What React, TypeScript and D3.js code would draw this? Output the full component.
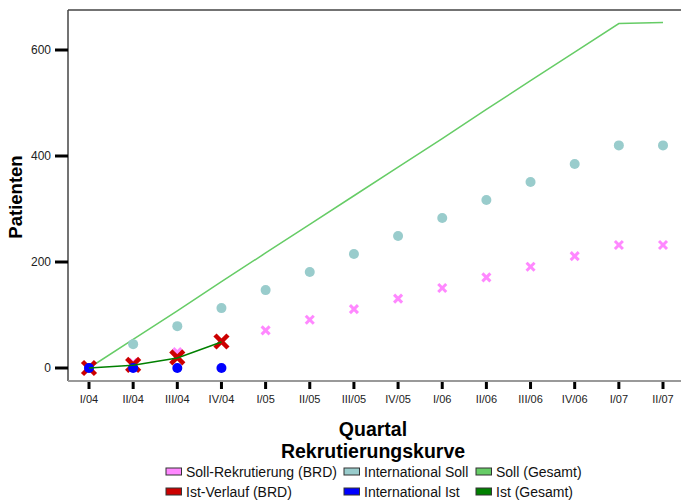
import React from "react";
import * as d3 from "d3";

const quarters = ["I/04","II/04","III/04","IV/04","I/05","II/05","III/05","IV/05","I/06","II/06","III/06","IV/06","I/07","II/07"];
const sollGesamt = [0, 54, 108, 163, 217, 271, 325, 379, 433, 488, 542, 596, 650, 652];
const internationalSoll = [0, 45, 79, 113, 147, 181, 215, 249, 283, 317, 351, 385, 420, 420];
const sollBRD = [0, 10, 30, 50, 71, 91, 111, 131, 151, 171, 191, 211, 232, 232];
const istBRD = [0, 6, 20, 50];
const internationalIst = [0, 0, 0, 0];
const istGesamt = [0, 5, 19, 49];
const yTicks = [0, 200, 400, 600];

const legendItems = [
  { label: "Soll-Rekrutierung (BRD)", color: "#ff88ff" },
  { label: "International Soll", color: "#99cccc" },
  { label: "Soll (Gesamt)", color: "#66cc66" },
  { label: "Ist-Verlauf (BRD)", color: "#cc0000" },
  { label: "International Ist", color: "#0000ff" },
  { label: "Ist (Gesamt)", color: "#008000" },
];

const FONT = "Arial, 'Liberation Sans', sans-serif";

export default function App() {
  const W = 681, H = 501;
  const left = 68, right = 682, top = 10, bottom = 381;
  const x = d3.scalePoint<string>().domain(quarters).range([89, 663]);
  const y = d3.scaleLinear().domain([0, 600]).range([368, 50]);
  const lineGen = d3.line<number>().x((_, i) => x(quarters[i])!).y(d => y(d));

  const xMark = (cx: number, cy: number, s: number, color: string, sw: number, key: string) => (
    <g key={key} stroke={color} strokeWidth={sw} strokeLinecap="butt">
      <line x1={cx - s} y1={cy - s} x2={cx + s} y2={cy + s} />
      <line x1={cx - s} y1={cy + s} x2={cx + s} y2={cy - s} />
    </g>
  );

  const legendCols = [166, 344, 476];
  const legendRows = [468, 488];

  return (
    <svg width={W} height={H} style={{ position: "absolute", left: 0, top: 0, fontFamily: FONT }}>
      <rect x={0} y={0} width={W} height={H} fill="#fff" />
      {/* frame */}
      <line x1={left} y1={top} x2={right} y2={top} stroke="#444" strokeWidth={1.5} />
      <line x1={left} y1={top} x2={left} y2={bottom} stroke="#444" strokeWidth={1.5} />
      <line x1={left} y1={bottom} x2={right} y2={bottom} stroke="#999" strokeWidth={2} />

      {/* y ticks */}
      {yTicks.map(t => (
        <g key={t}>
          <line x1={55} x2={68} y1={y(t)} y2={y(t)} stroke="#000" strokeWidth={3} />
          <text x={51} y={y(t)} dy="0.35em" textAnchor="end" fontSize={12} fill="#222">{t}</text>
        </g>
      ))}
      {/* x ticks */}
      {quarters.map(q => (
        <g key={q}>
          <line x1={x(q)!} x2={x(q)!} y1={382} y2={389} stroke="#000" strokeWidth={3} />
          <text x={x(q)!} y={403} textAnchor="middle" fontSize={11} fill="#222">{q}</text>
        </g>
      ))}

      {/* Soll Gesamt line */}
      <path d={lineGen(sollGesamt)!} fill="none" stroke="#66cc66" strokeWidth={1.5} />
      {/* International Soll dots */}
      {internationalSoll.map((v, i) => (
        <circle key={"is" + i} cx={x(quarters[i])!} cy={y(v)} r={5} fill="#99cccc" />
      ))}
      {/* Soll BRD x marks */}
      {sollBRD.map((v, i) => xMark(x(quarters[i])!, y(v), 4, "#ff88ff", 3, "sb" + i))}
      {/* Ist BRD big X */}
      {istBRD.map((v, i) => xMark(x(quarters[i])!, y(v), 6.5, "#cc0000", 4.5, "ib" + i))}
      {/* International Ist dots */}
      {internationalIst.map((v, i) => (
        <circle key={"ii" + i} cx={x(quarters[i])!} cy={y(v)} r={5} fill="#0000ff" />
      ))}
      {/* Ist Gesamt line */}
      <path d={lineGen(istGesamt)!} fill="none" stroke="#008000" strokeWidth={1.5} />

      {/* axis titles */}
      <text transform={`translate(22, 197) rotate(-90)`} textAnchor="middle" fontSize={18.5} fontWeight="bold" fill="#000">Patienten</text>
      <text x={373} y={436} textAnchor="middle" fontSize={19.5} fontWeight="bold" fill="#000">Quartal</text>
      <text x={373} y={458} textAnchor="middle" fontSize={19.5} fontWeight="bold" fill="#000">Rekrutierungskurve</text>

      {/* legend */}
      {legendItems.map((it, i) => {
        const cx = legendCols[i % 3];
        const cy = legendRows[Math.floor(i / 3)];
        return (
          <g key={it.label}>
            <rect x={cx} y={cy} width={15.5} height={7} fill={it.color} stroke="#333" strokeWidth={1} />
            <text x={cx + 20} y={cy + 8.5} fontSize={14} fill="#111">{it.label}</text>
          </g>
        );
      })}
    </svg>
  );
}
